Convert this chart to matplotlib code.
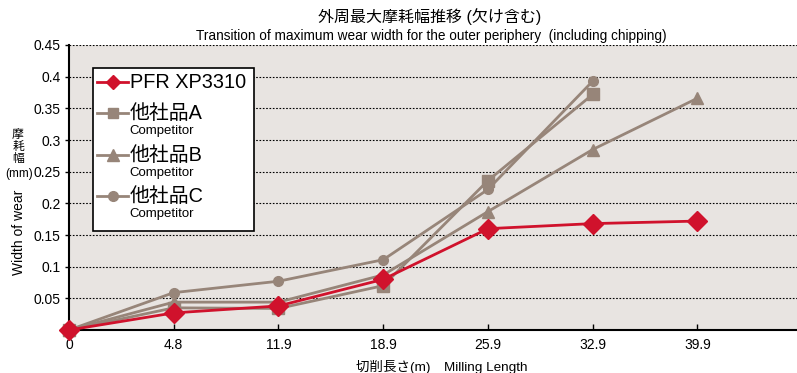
import matplotlib
matplotlib.use("Agg")
import matplotlib.pyplot as plt
from matplotlib.lines import Line2D
from matplotlib.patches import Rectangle

plt.rcParams['font.family'] = ['Liberation Sans', 'Noto Sans CJK JP', 'DejaVu Sans']

x_labels = ["0", "4.8", "11.9", "18.9", "25.9", "32.9", "39.9"]
pfr = [0, 0.027, 0.038, 0.080, 0.160, 0.168, 0.172]
comp_a = [0, 0.035, 0.034, 0.070, 0.236, 0.372]
comp_b = [0, 0.044, 0.044, 0.087, 0.187, 0.285, 0.366]
comp_c = [0, 0.059, 0.077, 0.111, 0.222, 0.393]
y_ticks = [0.05, 0.1, 0.15, 0.2, 0.25, 0.3, 0.35, 0.4, 0.45]
y_tick_labels = ["0.05", "0.1", "0.15", "0.2", "0.25", "0.3", "0.35", "0.4", "0.45"]

RED = "#d0122c"
GRAY = "#978579"

fig = plt.figure(figsize=(7.97, 3.73), dpi=100)
ax = fig.add_axes([69/797, 1 - 330/373, (797-69)/797, (330-45)/373])
ax.set_facecolor("#e8e4e1")

xs = list(range(len(x_labels)))
ax.plot(xs[:len(comp_a)], comp_a, color=GRAY, lw=2, marker="s", ms=8, zorder=3, clip_on=False)
ax.plot(xs[:len(comp_b)], comp_b, color=GRAY, lw=2, marker="^", ms=9, zorder=3, clip_on=False)
ax.plot(xs[:len(comp_c)], comp_c, color=GRAY, lw=2, marker="o", ms=7, zorder=3, clip_on=False)
ax.plot(xs, pfr, color=RED, lw=2, marker="D", ms=10, zorder=4, clip_on=False)

ax.set_xlim(0, 6.95)
ax.set_ylim(0, 0.45)
ax.set_xticks(xs)
ax.set_xticklabels(x_labels, fontsize=10)
ax.set_yticks(y_ticks)
ax.set_yticklabels(y_tick_labels, fontsize=10)
ax.tick_params(axis="x", direction="in", length=4, width=1, pad=6)
ax.tick_params(axis="y", direction="out", length=3, width=1, pad=3)
ax.grid(axis="y", color="black", linestyle=(0, (1.5, 1.5)), lw=0.8)
ax.set_axisbelow(True)
for s in ["top", "right"]:
    ax.spines[s].set_visible(False)
for s in ["left", "bottom"]:
    ax.spines[s].set_linewidth(1.5)

# Titles
fig.text(430/797, 1 - 17/373, "外周最大摩耗幅推移 (欠け含む)", ha="center", va="center", fontsize=11.5)
fig.text(431/797, 1 - 36/373, "Transition of maximum wear width for the outer periphery  (including chipping)",
         ha="center", va="center", fontsize=9.8)
fig.text(442/797, 1 - 367/373, "切削長さ(m)　Milling Length", ha="center", va="center", fontsize=9.7)

# Y labels
fig.text(18/797, 1 - 147/373, "摩\n耗\n幅", ha="center", va="center", fontsize=8.5, linespacing=0.95)
fig.text(19/797, 1 - 174/373, "(mm)", ha="center", va="center", fontsize=8.5)
fig.text(19/797, 1 - 232/373, "Width of wear", ha="center", va="center", fontsize=10, rotation=90)

# Manual legend
tr = ax.transAxes
def ax_x(px):
    return (px - 69) / 728
def ax_y(py):
    return (330 - py) / 285

ax.add_patch(Rectangle((ax_x(93), ax_y(231)), ax_x(254) - ax_x(93), ax_y(68) - ax_y(231),
                       transform=tr, facecolor="white", edgecolor="black", lw=1.2, zorder=10))
entries = [
    ("PFR XP3310", None, RED, "D", 7, 82),
    ("他社品A", "Competitor", GRAY, "s", 7, 113),
    ("他社品B", "Competitor", GRAY, "^", 8, 155),
    ("他社品C", "Competitor", GRAY, "o", 7, 196),
]
for label, sub, col, mk, ms, py in entries:
    ax.add_line(Line2D([ax_x(97), ax_x(128)], [ax_y(py), ax_y(py)], transform=tr, color=col, lw=2, zorder=11))
    ax.add_line(Line2D([ax_x(112.5)], [ax_y(py)], transform=tr, color=col, marker=mk, ms=ms, zorder=12))
    ax.text(ax_x(130), ax_y(py), label, transform=tr, ha="left", va="center", fontsize=14.3, zorder=12)
    if sub:
        ax.text(ax_x(129), ax_y(py + 18), sub, transform=tr, ha="left", va="center", fontsize=9.5, zorder=12)

fig.savefig("out.png", dpi=100)
